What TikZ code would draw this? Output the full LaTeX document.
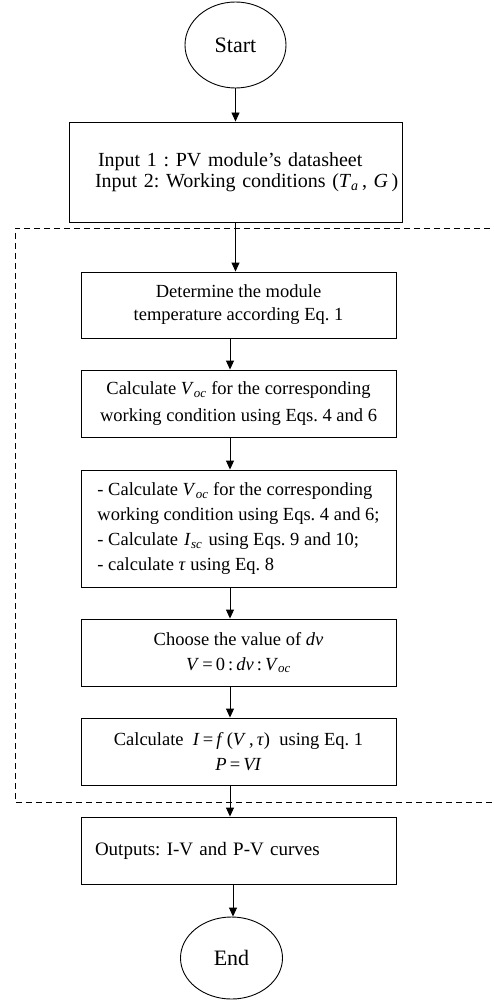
\documentclass[tikz,border=0pt]{standalone}
\usepackage{fontspec}
\setmainfont{Liberation Serif}
\usetikzlibrary{arrows.meta,shapes.geometric}
\newcommand\mysub[1]{\textsubscript{\textit{#1}}}
\newcommand\mi[1]{\textit{#1}}
\newcommand\gp{\hspace{1.5pt}}
\frenchspacing
\begin{document}
\begin{tikzpicture}[x=1pt,y=-1pt,
  every node/.style={inner sep=0pt},
  boxst/.style={draw, line width=0.9pt, minimum width=315pt, minimum height=67pt},
  ovalst/.style={draw, ellipse, line width=0.9pt, font=\fontsize{22}{24}\selectfont},
  arr/.style={-{Triangle[length=9pt,width=8pt]}, line width=0.9pt},
  dashst/.style={line width=0.8pt, dash pattern=on 6pt off 4pt}]
\useasboundingbox (0,0) rectangle (494,1000);
\node[ovalst, minimum width=101pt, minimum height=86pt] (start) at (235.5,45) {Start};
\node[boxst, minimum width=333pt, minimum height=100pt, align=left, text width=333pt, font=\fontsize{20}{21}\selectfont] (in1) at (235.5,172)
  {\mbox{\hspace*{29pt}Input 1 : PV module's datasheet}\\\mbox{\hspace*{26pt}Input 2: Working conditions (\mi{T}\mysub{a}\,, \mi{G}\,)}};
\node[boxst, minimum height=66pt, align=center, font=\fontsize{18.5}{23}\selectfont] (b2) at (238.5,305)
  {Determine the module\\temperature according Eq. 1};
\node[boxst, align=center, font=\fontsize{18.5}{27}\selectfont] (b3) at (238.5,403.5)
  {Calculate \mi{V}\mysub{oc} for the corresponding\\working condition using Eqs. 4 and 6};
\node[boxst, minimum height=117pt, align=left, font=\fontsize{18.5}{25}\selectfont] (b4) at (238.5,528.5)
  {- Calculate \mi{V}\mysub{oc} for the corresponding\\working condition using Eqs. 4 and 6;\\- Calculate \gp\mi{I}\mysub{sc}\gp{} using Eqs. 9 and 10;\\- calculate \mi{τ} using Eq. 8};
\node[boxst, align=center, font=\fontsize{18.5}{25}\selectfont] (b5) at (238.5,652.5)
  {Choose the value of \mi{dv}\\\mi{V}\,=\,0\,:\,\mi{dv}\,:\,\mi{V}\mysub{oc}};
\node[boxst, align=center, font=\fontsize{18.5}{25}\selectfont] (b6) at (238.5,751.5)
  {Calculate \ \mi{I}\,=\,\mi{f}\,(\mi{V}\,,\,\mi{τ}) \ using Eq. 1\\\mi{P}\,=\,\mi{VI}};
\node[boxst, align=left, text width=287pt, font=\fontsize{19}{22}\selectfont] (out) at (238.5,850.5)
  {Outputs: I-V and P-V curves};
\node[ovalst, minimum width=102pt, minimum height=82pt] (end) at (231.5,958) {End};
\draw[arr] (start.south -| in1.north) -- (in1.north);
\draw[arr] (in1.south) -- (in1.south |- b2.north);
\draw[arr] ([xshift=-8.5pt]b2.south) -- ([xshift=-8.5pt]b3.north);
\draw[arr] ([xshift=-8.5pt]b3.south) -- ([xshift=-8.5pt]b4.north);
\draw[arr] ([xshift=-8.5pt]b4.south) -- ([xshift=-8.5pt]b5.north);
\draw[arr] ([xshift=-8.5pt]b5.south) -- ([xshift=-8.5pt]b6.north);
\draw[arr] ([xshift=-8.5pt]b6.south) -- ([xshift=-8.5pt]out.north);
\draw[arr] ([xshift=-5.5pt]out.south) -- ([xshift=-5.5pt]out.south |- end.north);
\coordinate (dtr) at (500,228);
\coordinate (dtl) at (15,228);
\coordinate (dbl) at (15,802);
\coordinate (dbr) at (500,802);
\draw[dashst] (dtr) -- (dtl) -- (dbl) -- (dbr);
\end{tikzpicture}
\end{document}
